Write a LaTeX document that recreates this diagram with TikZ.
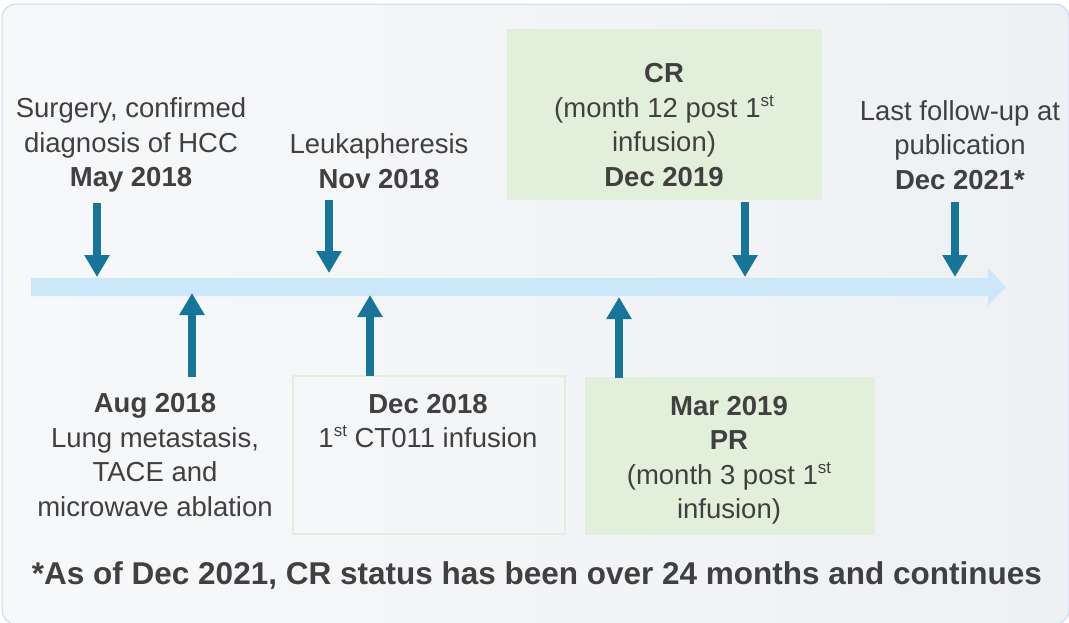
\documentclass[tikz,border=0pt]{standalone}
\usepackage{fontspec}
\setmainfont{Liberation Sans}
\usetikzlibrary{arrows.meta}
\definecolor{txt}{HTML}{404040}
\definecolor{arrc}{HTML}{17759A}
\definecolor{barc}{HTML}{CDE7FA}
\definecolor{greenc}{HTML}{E2EFDA}
\definecolor{bgl}{HTML}{F7F8FA}
\definecolor{bgr}{HTML}{EEF1F4}
\definecolor{bord}{HTML}{C9D7F2}
\newcommand{\supr}[1]{\raisebox{0.4em}{\fontsize{17}{17}\selectfont #1}}
\tikzset{
  lbl/.style={font=\fontsize{27.5}{34.5}\selectfont, text=txt, align=center, inner sep=0pt},
  evarrow/.style={draw=arrc, line width=8pt, -{Triangle[width=24pt,length=22pt]}},
  gbox/.style={fill=greenc, draw=none},
  obox/.style={draw=greenc, line width=2pt, fill=none}
}
\begin{document}
\begin{tikzpicture}[x=1pt,y=-1pt]
\useasboundingbox (0,0) rectangle (1069,622);
% background
\shade[left color=bgl, right color=bgr, draw=bord, line width=1pt, rounded corners=14pt] (2,4) rectangle (1069,624);
% timeline bar
\fill[barc] (31,278) -- (988,278) -- (988,268) -- (1006,287) -- (988,306) -- (988,296) -- (31,296) -- cycle;
% boxes
\node[gbox, minimum width=315pt, minimum height=171pt, anchor=north west] (crbox) at (507,29) {};
\node[obox, minimum width=272pt, minimum height=158pt, anchor=north west] (infbox) at (292,375) {};
\node[gbox, minimum width=290pt, minimum height=158pt, anchor=north west] (prbox) at (585,377) {};
% texts above
\node[lbl] (surg) at (131,145) {Surgery, confirmed\\diagnosis of HCC\\\textbf{May 2018}};
\node[lbl] (leuk) at (379,161) {Leukapheresis\\\textbf{Nov 2018}};
\node[lbl] (cr) at (664,125) {\textbf{CR}\\(month 12 post 1\supr{st}\\infusion)\\\textbf{Dec 2019}};
\node[lbl] (last) at (960,145) {Last follow-up at\\publication\\\textbf{Dec 2021*}};
% texts below
\node[lbl] (aug) at (155,455) {\textbf{Aug 2018}\\Lung metastasis,\\TACE and\\microwave ablation};
\node[lbl] (dec18) at (428,421) {\textbf{Dec 2018}\\1\supr{st} CT011 infusion};
\node[lbl] (mar) at (729,460) {\textbf{Mar 2019}\\\textbf{PR}\\(month 3 post 1\supr{st}\\infusion)};
% footer
\node[lbl, font=\bfseries\fontsize{31.5}{34}\selectfont] (foot) at (537,576) {*As of Dec 2021, CR status has been over 24 months and continues};
% arrow coordinates
\coordinate (a1s) at (97,203); \coordinate (a1e) at (97,277);
\coordinate (a2s) at (329,200); \coordinate (a2e) at (329,273);
\coordinate (a3s) at (745,202); \coordinate (a3e) at (745,277);
\coordinate (a4s) at (955,202); \coordinate (a4e) at (955,277);
\coordinate (b1s) at (192,377); \coordinate (b1e) at (192,293);
\coordinate (b2s) at (370,376); \coordinate (b2e) at (370,295);
\coordinate (b3s) at (619,378); \coordinate (b3e) at (619,297);
\draw[evarrow] (a1s) -- (a1e);
\draw[evarrow] (a2s) -- (a2e);
\draw[evarrow] (a3s) -- (a3e);
\draw[evarrow] (a4s) -- (a4e);
\draw[evarrow] (b1s) -- (b1e);
\draw[evarrow] (b2s) -- (b2e);
\draw[evarrow] (b3s) -- (b3e);
\end{tikzpicture}
\end{document}
